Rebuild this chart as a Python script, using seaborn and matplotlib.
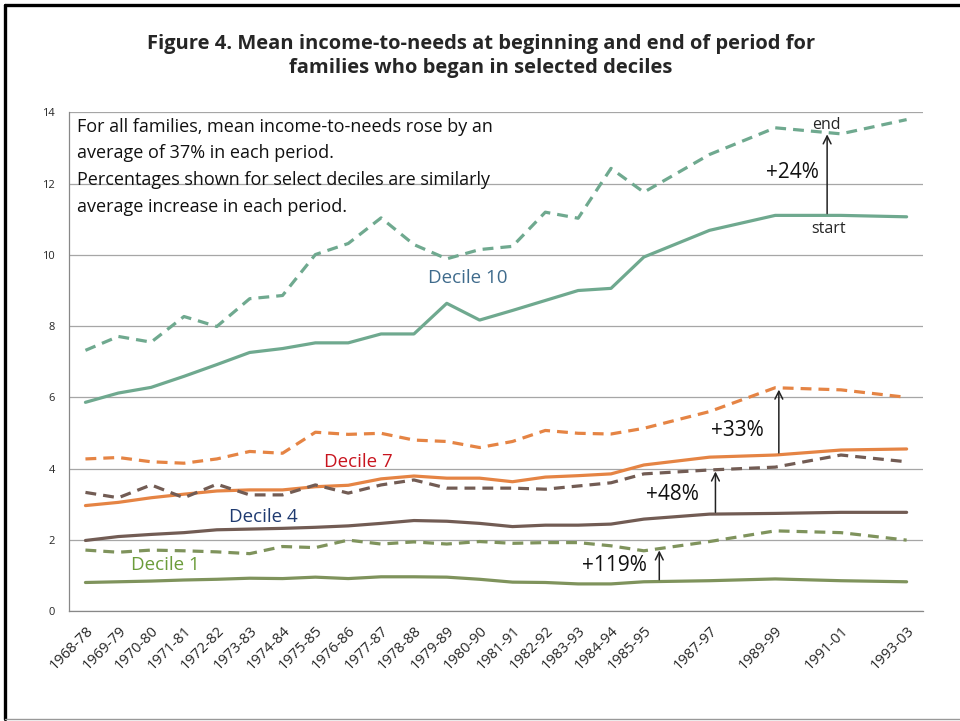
import matplotlib
matplotlib.use("Agg")
import matplotlib.pyplot as plt
from matplotlib.lines import Line2D
import numpy as np
import pandas as pd
import seaborn as sns

# all 26 ten-year periods on the axis; only some of the later ones have data
periods = ['1968-78', '1969-79', '1970-80', '1971-81', '1972-82', '1973-83',
           '1974-84', '1975-85', '1976-86', '1977-87', '1978-88', '1979-89',
           '1980-90', '1981-91', '1982-92', '1983-93', '1984-94', '1985-95',
           '1986-96', '1987-97', '1988-98', '1989-99', '1990-00', '1991-01',
           '1992-02', '1993-03']
measured = periods[:18] + ['1987-97', '1989-99', '1991-01', '1993-03']

d10_start = [5.86, 6.12, 6.28, 6.59, 6.92, 7.26, 7.37, 7.53, 7.53, 7.78, 7.78,
             8.64, 8.17, 8.44, 8.72, 9.00, 9.06, 9.94, 10.69, 11.11, 11.11, 11.07]
d10_end = [7.32, 7.71, 7.55, 8.27, 7.99, 8.77, 8.86, 10.01, 10.32, 11.04, 10.29,
           9.89, 10.15, 10.24, 11.20, 11.03, 12.43, 11.76, 12.82, 13.57, 13.40, 13.80]
d7_start = [2.96, 3.05, 3.18, 3.28, 3.37, 3.40, 3.40, 3.49, 3.53, 3.71, 3.79,
            3.73, 3.73, 3.63, 3.76, 3.80, 3.85, 4.10, 4.32, 4.38, 4.52, 4.55]
d7_end = [4.27, 4.31, 4.19, 4.15, 4.27, 4.48, 4.43, 5.02, 4.96, 4.99, 4.80,
          4.76, 4.59, 4.76, 5.07, 4.99, 4.97, 5.13, 5.60, 6.27, 6.21, 6.00]
d4_start = [1.98, 2.09, 2.15, 2.20, 2.28, 2.30, 2.32, 2.35, 2.39, 2.46, 2.54,
            2.52, 2.46, 2.37, 2.41, 2.41, 2.44, 2.58, 2.72, 2.74, 2.77, 2.77]
d4_end = [3.33, 3.18, 3.54, 3.18, 3.56, 3.26, 3.26, 3.54, 3.31, 3.54, 3.68,
          3.45, 3.45, 3.45, 3.42, 3.51, 3.60, 3.85, 3.96, 4.04, 4.38, 4.19]
d1_start = [0.80, 0.82, 0.84, 0.87, 0.89, 0.92, 0.91, 0.95, 0.91, 0.96, 0.96,
            0.95, 0.89, 0.81, 0.80, 0.76, 0.76, 0.82, 0.85, 0.90, 0.85, 0.82]
d1_end = [1.71, 1.65, 1.71, 1.69, 1.66, 1.61, 1.81, 1.78, 1.99, 1.88, 1.94,
          1.88, 1.95, 1.90, 1.92, 1.92, 1.83, 1.69, 1.95, 2.25, 2.20, 1.99]

series = {
    ('Decile 10', 'start'): d10_start, ('Decile 10', 'end'): d10_end,
    ('Decile 7', 'start'): d7_start, ('Decile 7', 'end'): d7_end,
    ('Decile 4', 'start'): d4_start, ('Decile 4', 'end'): d4_end,
    ('Decile 1', 'start'): d1_start, ('Decile 1', 'end'): d1_end,
}
xpos = [periods.index(p) for p in measured]
rows = []
for (dec, when), vals in series.items():
    for p, x, v in zip(measured, xpos, vals):
        rows.append({'decile': dec, 'when': when, 'period': p, 'x': x, 'value': v})
df = pd.DataFrame(rows)

line_colors = {'Decile 10': '#6fa98f', 'Decile 7': '#e58444',
               'Decile 4': '#725c54', 'Decile 1': '#7f935c'}
label_colors = {'Decile 10': '#3f6b8c', 'Decile 7': '#c8141e',
                'Decile 4': '#1f3a70', 'Decile 1': '#6b9c3a'}

sns.set_style('white')
plt.rcParams['font.family'] = ['Open Sans', 'DejaVu Sans']

fig = plt.figure(figsize=(9.6, 7.21), dpi=100)
ax = fig.add_axes([0.0719, 0.1526, 0.8896, 0.6914])

sns.lineplot(data=df, x='x', y='value', hue='decile', style='when',
             palette=line_colors, dashes={'start': '', 'end': (3.4, 2.2)},
             style_order=['start', 'end'], linewidth=2.3, legend=False,
             sort=True, estimator=None, ax=ax)

ax.set_xlim(-0.5, 25.5)
ax.set_ylim(0, 14)
ax.set_yticks(np.arange(0, 15, 2))
ax.yaxis.grid(True, color='#a6a6a6', linewidth=0.9)
ax.set_axisbelow(True)
ax.set_xticks(xpos)
ax.set_xticklabels(measured, rotation=45, ha='right', rotation_mode='anchor',
                   fontsize=10.5)
ax.set_xticks(np.arange(-0.5, 26, 1), minor=True)
ax.tick_params(axis='x', which='major', length=0, pad=9)
ax.tick_params(axis='x', which='minor', length=4, color='#888888', width=0.9)
ax.tick_params(axis='y', length=4, color='#888888', width=0.9, labelsize=8, pad=6)
ax.set_xlabel('')
ax.set_ylabel('')
for side in ['top', 'right']:
    ax.spines[side].set_visible(False)
for side in ['left', 'bottom']:
    ax.spines[side].set_color('#888888')
    ax.spines[side].set_linewidth(0.9)

# note text
ax.text(-0.25, 13.85,
        'For all families, mean income-to-needs rose by an\n'
        'average of 37% in each period.\n'
        'Percentages shown for select deciles are similarly\n'
        'average increase in each period.',
        fontsize=13, va='top', ha='left', linespacing=1.62, color='#111111')

# decile labels
ax.text(11.65, 9.36, 'Decile 10', color=label_colors['Decile 10'], fontsize=13.5,
        ha='center', va='center')
ax.text(8.3, 4.19, 'Decile 7', color=label_colors['Decile 7'], fontsize=13.5,
        ha='center', va='center')
ax.text(5.41, 2.64, 'Decile 4', color=label_colors['Decile 4'], fontsize=13.5,
        ha='center', va='center')
ax.text(2.42, 1.29, 'Decile 1', color=label_colors['Decile 1'], fontsize=13.5,
        ha='center', va='center')

ax.text(22.57, 13.66, 'end', fontsize=11.5, ha='center', va='center')
ax.text(22.63, 10.74, 'start', fontsize=11.5, ha='center', va='center')

# growth arrows from start line up to end line
arrows = [('Decile 10', 22.58, '+24%', 21.51, 12.31),
          ('Decile 7', 21.11, '+33%', 19.84, 5.07),
          ('Decile 4', 19.18, '+48%', 17.88, 3.28),
          ('Decile 1', 17.47, '+119%', 16.09, 1.29)]
for dec, xa, lab, xt, yt in arrows:
    y0 = np.interp(xa, xpos, series[(dec, 'start')])
    y1 = np.interp(xa, xpos, series[(dec, 'end')])
    ax.annotate('', xy=(xa, y1 - 0.05), xytext=(xa, y0 + 0.05),
                arrowprops=dict(arrowstyle='->', color='#222222', lw=1.1,
                                mutation_scale=14, shrinkA=0, shrinkB=0))
    ax.text(xt, yt, lab, fontsize=15, ha='center', va='center', color='#111111')

fig.text(0.501, 1 - 56 / 721,
         'Figure 4. Mean income-to-needs at beginning and end of period for\n'
         'families who began in selected deciles',
         ha='center', va='center', fontsize=14.5, fontweight='bold', linespacing=1.3)

# chart frame (left/top heavy, bottom thin)
fig.add_artist(Line2D([4.5 / 960, 4.5 / 960], [2 / 721, 1 - 5 / 721],
                      transform=fig.transFigure, color='black', lw=2.4))
fig.add_artist(Line2D([4.5 / 960, 1], [1 - 5 / 721, 1 - 5 / 721],
                      transform=fig.transFigure, color='black', lw=2.4))
fig.add_artist(Line2D([4.5 / 960, 1], [2 / 721, 2 / 721],
                      transform=fig.transFigure, color='#999999', lw=1))

fig.savefig('out.png', dpi=100, facecolor='white')
